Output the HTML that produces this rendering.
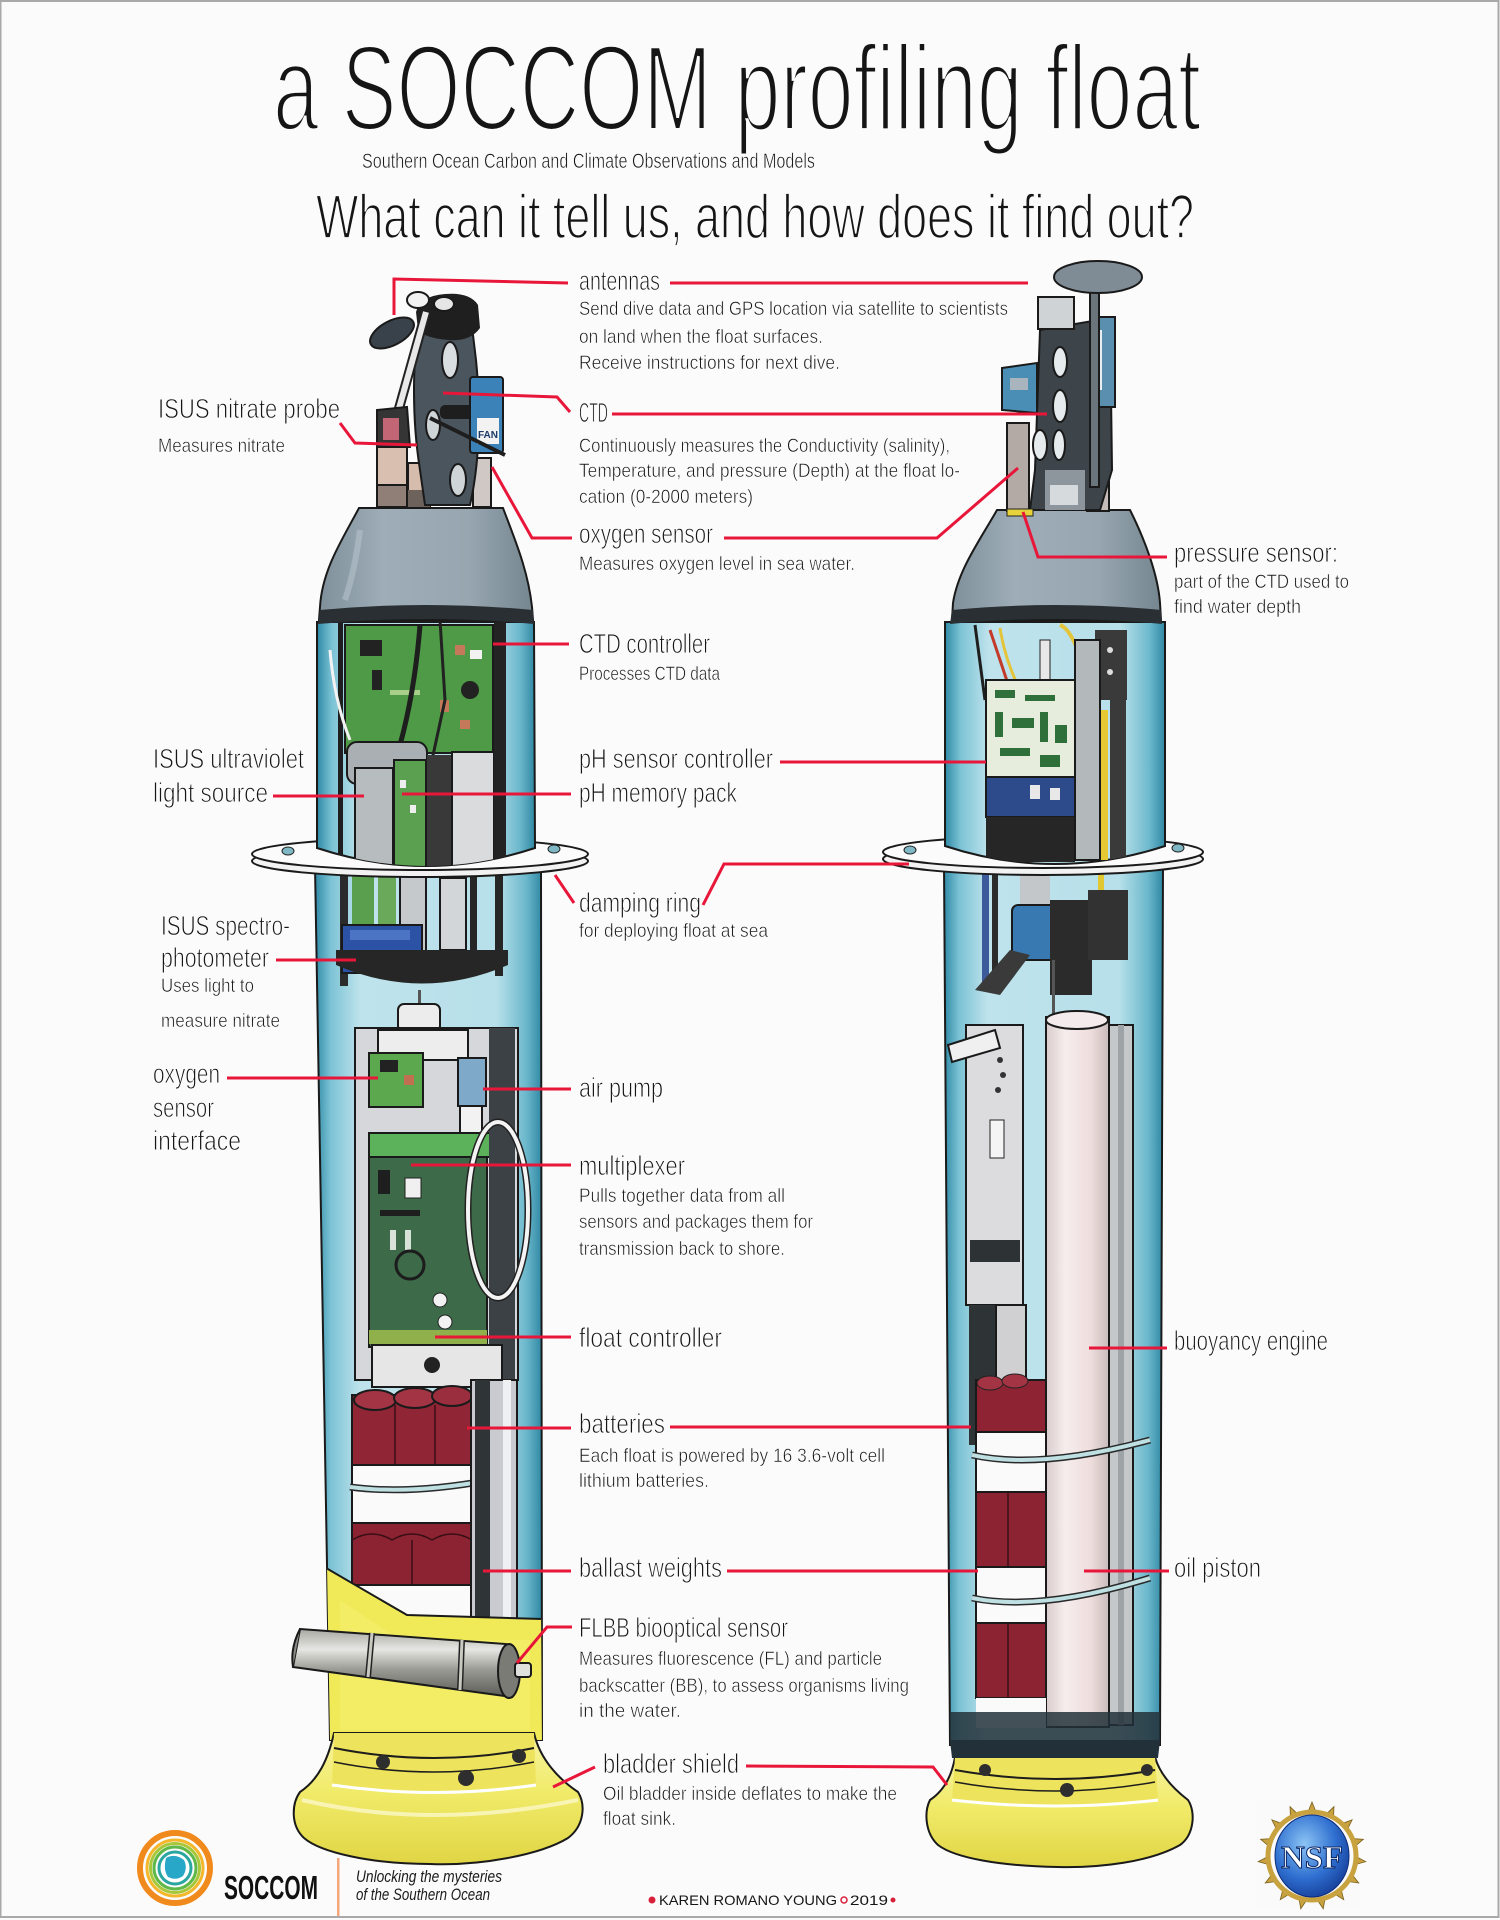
<!DOCTYPE html>
<html><head><meta charset="utf-8">
<style>
html,body{margin:0;padding:0;background:#fcfbfc;}
svg{display:block;}
.t{font-family:"Liberation Sans Narrow","Liberation Sans",sans-serif;fill:#151515;stroke:#fcfbfc;}
.r{fill:none;stroke:#e8173a;stroke-width:3;stroke-linejoin:miter;}
.o{stroke:#1a1a1a;stroke-width:2;}
.L{stroke-width:0.9;}
.D{stroke-width:0.55;}
</style></head><body>
<svg width="1500" height="1920" viewBox="0 0 1500 1920" xmlns="http://www.w3.org/2000/svg">
<defs>
<linearGradient id="tube" x1="0" x2="1" y1="0" y2="0">
 <stop offset="0" stop-color="#2f8aa6"/>
 <stop offset="0.07" stop-color="#7cc3d5"/>
 <stop offset="0.2" stop-color="#bfe3ec"/>
 <stop offset="0.8" stop-color="#b7e0ea"/>
 <stop offset="0.93" stop-color="#6cb8cc"/>
 <stop offset="1" stop-color="#2f88a3"/>
</linearGradient>
<linearGradient id="cap" x1="0" x2="1" y1="0" y2="0">
 <stop offset="0" stop-color="#7f909a"/>
 <stop offset="0.3" stop-color="#9eadb7"/>
 <stop offset="0.7" stop-color="#97a6b0"/>
 <stop offset="1" stop-color="#75868f"/>
</linearGradient>
<linearGradient id="yel" x1="0" y1="0" x2="0" y2="1">
 <stop offset="0" stop-color="#f7f3a0"/>
 <stop offset="0.45" stop-color="#f1eb6a"/>
 <stop offset="1" stop-color="#e0d544"/>
</linearGradient>
<linearGradient id="flbb" x1="0" y1="0" x2="0" y2="1">
 <stop offset="0" stop-color="#a8a8a2"/>
 <stop offset="0.3" stop-color="#e6e6e2"/>
 <stop offset="0.6" stop-color="#9a9a94"/>
 <stop offset="1" stop-color="#5a5a56"/>
</linearGradient>
<linearGradient id="buoy" x1="0" x2="1" y1="0" y2="0">
 <stop offset="0" stop-color="#d9cccc"/>
 <stop offset="0.3" stop-color="#f6eded"/>
 <stop offset="0.7" stop-color="#efdede"/>
 <stop offset="1" stop-color="#c9bcbc"/>
</linearGradient>
<radialGradient id="globe" cx="0.4" cy="0.35" r="0.7">
 <stop offset="0" stop-color="#8cc4f4"/>
 <stop offset="0.6" stop-color="#2f6fd0"/>
 <stop offset="1" stop-color="#163f9a"/>
</radialGradient>
<clipPath id="cLU"><path d="M317,622 L534,622 L535,848 Q426,884 317,848 Z"/></clipPath>
<clipPath id="cLL"><path d="M315,866 L541,866 L542,1740 L330,1740 Z"/></clipPath>
<clipPath id="cRU"><path d="M945,622 L1165,622 L1165,846 Q1055,882 945,846 Z"/></clipPath>
<clipPath id="cRL"><path d="M944,864 L1163,864 L1160,1745 L950,1745 Z"/></clipPath>
</defs>

<rect x="0" y="0" width="1500" height="1920" fill="#fcfbfc"/>
<rect x="0.5" y="1" width="1498" height="1916" fill="none" stroke="#a9a9a9" stroke-width="2"/>

<!-- TITLES -->
<text class="t" x="273" y="130" font-size="122" stroke-width="4" textLength="928" lengthAdjust="spacingAndGlyphs">a SOCCOM profiling float</text>
<text class="t D" x="362" y="168" font-size="21" textLength="453" lengthAdjust="spacingAndGlyphs">Southern Ocean Carbon and Climate Observations and Models</text>
<text class="t" x="316" y="238" font-size="62" stroke-width="1.8" textLength="878" lengthAdjust="spacingAndGlyphs">What can it tell us, and how does it find out?</text>

<!-- ================= LEFT FLOAT ================= -->
<path d="M315,866 L541,866 L542,1740 L330,1740 Z" fill="url(#tube)" class="o" stroke-width="3"/>
<g clip-path="url(#cLL)">
 <rect x="340" y="866" width="8" height="120" fill="#2b2b2b"/>
 <rect x="352" y="866" width="22" height="75" fill="#5a9f4d"/>
 <rect x="378" y="866" width="18" height="62" fill="#6aa95a"/>
 <rect x="400" y="872" width="26" height="80" fill="#c5c9cc" class="o" stroke-width="1"/>
 <rect x="440" y="878" width="26" height="72" fill="#d3d6d8" class="o" stroke-width="1"/>
 <rect x="470" y="866" width="7" height="110" fill="#262626"/>
 <rect x="495" y="866" width="8" height="110" fill="#262626"/>
 <rect x="342" y="925" width="80" height="48" fill="#2c52a6" class="o"/>
 <rect x="350" y="930" width="60" height="10" fill="#4b74c4"/>
 <path d="M336,950 L508,950 L508,965 Q422,1002 336,965 Z" fill="#262626"/>
 <rect x="418" y="990" width="3" height="25" fill="#555"/>
 <rect x="398" y="1004" width="42" height="28" rx="6" fill="#ececec" class="o" stroke-width="1.5"/>
 <rect x="355" y="1028" width="163" height="352" fill="#d6d7da" class="o"/>
 <rect x="378" y="1030" width="90" height="30" fill="#ededed" class="o" stroke-width="1"/>
 <rect x="369" y="1053" width="54" height="54" fill="#5ba84f" class="o" stroke-width="1.5"/>
 <rect x="380" y="1060" width="18" height="12" fill="#222"/>
 <rect x="404" y="1075" width="10" height="10" fill="#c07050"/>
 <rect x="458" y="1058" width="28" height="48" fill="#7fa9c8" class="o" stroke-width="1.5"/>
 <rect x="460" y="1106" width="22" height="30" fill="#f2f2f2" class="o" stroke-width="1"/>
 <rect x="369" y="1133" width="123" height="24" fill="#5bb25a" class="o" stroke-width="1.5"/>
 <rect x="369" y="1157" width="118" height="190" fill="#3d6a48" class="o" stroke-width="1.5"/>
 <rect x="378" y="1170" width="12" height="24" fill="#1e1e1e"/>
 <rect x="405" y="1178" width="16" height="20" fill="#f0f0f0" stroke="#222"/>
 <rect x="380" y="1210" width="40" height="6" fill="#1e1e1e"/>
 <rect x="390" y="1230" width="6" height="20" fill="#d8e2d8"/>
 <rect x="405" y="1230" width="6" height="20" fill="#d8e2d8"/>
 <circle cx="440" cy="1300" r="7" fill="#f2f2f2" stroke="#222"/>
 <circle cx="445" cy="1322" r="7" fill="#f2f2f2" stroke="#222"/>
 <circle cx="410" cy="1265" r="14" fill="none" stroke="#1c1c1c" stroke-width="3"/>
 <rect x="369" y="1330" width="118" height="14" fill="#8fb04a"/>
 <rect x="489" y="1028" width="26" height="352" fill="#3b4145"/>
 <ellipse cx="498" cy="1210" rx="30" ry="88" fill="none" stroke="#222" stroke-width="7"/>
 <ellipse cx="498" cy="1210" rx="30" ry="88" fill="none" stroke="#f4f4f4" stroke-width="4"/>
 <rect x="372" y="1345" width="130" height="42" fill="#e6e6e6" class="o" stroke-width="1.5"/>
 <circle cx="432" cy="1365" r="8" fill="#222"/>
 <rect x="352" y="1395" width="120" height="70" fill="#8f2535" class="o" stroke-width="1.5"/>
 <ellipse cx="375" cy="1400" rx="21" ry="10" fill="#a23444" class="o" stroke-width="1.5"/>
 <ellipse cx="415" cy="1398" rx="21" ry="10" fill="#a23444" class="o" stroke-width="1.5"/>
 <ellipse cx="452" cy="1396" rx="20" ry="10" fill="#9a2e3e" class="o" stroke-width="1.5"/>
 <line x1="395" y1="1405" x2="395" y2="1465" stroke="#3a0e15" stroke-width="1.5"/>
 <line x1="435" y1="1405" x2="435" y2="1465" stroke="#3a0e15" stroke-width="1.5"/>
 <rect x="352" y="1465" width="120" height="58" fill="#fafafa" class="o" stroke-width="1.5"/>
 <path d="M350,1487 Q410,1495 490,1480" fill="none" stroke="#2a2a2a" stroke-width="7"/>
 <path d="M350,1487 Q410,1495 490,1480" fill="none" stroke="#bfe0e2" stroke-width="4"/>
 <rect x="352" y="1523" width="120" height="62" fill="#8b2333" class="o" stroke-width="1.5"/>
 <path d="M352,1540 Q372,1528 392,1540 Q412,1528 432,1540 Q452,1528 472,1540" fill="none" stroke="#3a0e15" stroke-width="1.5"/>
 <line x1="412" y1="1540" x2="412" y2="1585" stroke="#3a0e15" stroke-width="1.5"/>
 <rect x="352" y="1585" width="120" height="40" fill="#fafafa" class="o" stroke-width="1.5"/>
 <rect x="471" y="1380" width="46" height="245" fill="#c9cbd0" class="o" stroke-width="1.5"/>
 <rect x="475" y="1380" width="15" height="245" fill="#2f3437"/>
 <rect x="503" y="1380" width="8" height="245" fill="#eef0f2"/>
 <path d="M326,1568 L407,1615 L542,1619 L543,1745 L326,1745 Z" fill="#f0ea58" class="o"/>
 <path d="M340,1600 L400,1640 L530,1640 L530,1730 L340,1730 Z" fill="#f3ee6e" opacity="0.6"/>
</g>

<!-- FLBB sensor -->
<path d="M300,1629 L506,1644 L512,1697 L293,1667 Z" fill="url(#flbb)" class="o"/>
<path d="M300,1629 Q290,1648 293,1667" fill="#8a8a86" class="o"/>
<ellipse cx="509" cy="1671" rx="11" ry="27" fill="#7b7b76" class="o"/>
<rect x="515" y="1663" width="16" height="14" rx="3" fill="#e0e0dc" class="o" stroke-width="1.5"/>
<path d="M372,1633 L368,1677" fill="none" stroke="#222" stroke-width="6"/>
<path d="M372,1633 L368,1677" fill="none" stroke="#c9c9c2" stroke-width="3"/>
<path d="M462,1640 L460,1690" fill="none" stroke="#222" stroke-width="6"/>
<path d="M462,1640 L460,1690" fill="none" stroke="#c9c9c2" stroke-width="3"/>

<!-- left bladder shield -->
<path d="M334,1733 L534,1733 C540,1760 560,1780 578,1792 C586,1805 584,1826 568,1838 C540,1855 480,1866 430,1864 C370,1864 320,1852 304,1838 C290,1825 292,1803 300,1792 C318,1780 328,1760 334,1733 Z" fill="url(#yel)" class="o" stroke-width="3"/>
<path d="M334,1733 L534,1733 L536,1785 Q434,1800 332,1785 Z" fill="#eee35c"/>
<path d="M334,1748 Q434,1768 534,1748" fill="none" stroke="#1d1d1d" stroke-width="2"/>
<path d="M334,1762 Q434,1782 534,1762" fill="none" stroke="#1d1d1d" stroke-width="1.5"/>
<path d="M332,1785 Q434,1800 536,1785" fill="none" stroke="#fff" stroke-width="3"/>
<circle cx="383" cy="1762" r="7" fill="#2e2e2e"/>
<circle cx="466" cy="1778" r="8" fill="#2e2e2e"/>
<circle cx="519" cy="1756" r="7" fill="#2e2e2e"/>
<path d="M302,1800 Q430,1830 578,1800" fill="none" stroke="#fbf8c8" stroke-width="4" opacity="0.8"/>

<!-- left damping ring -->
<ellipse cx="420" cy="861" rx="168" ry="16" fill="#f2f2f2" class="o" stroke-width="2.5"/>
<ellipse cx="420" cy="854" rx="168" ry="16" fill="#fbfbfb" class="o" stroke-width="2.5"/>
<ellipse cx="288" cy="851" rx="6" ry="4" fill="#7fb8c4" stroke="#222"/>
<ellipse cx="554" cy="849" rx="6" ry="4" fill="#7fb8c4" stroke="#222"/>

<!-- left upper tube -->
<path d="M317,622 L534,622 L535,848 Q426,884 317,848 Z" fill="url(#tube)" class="o" stroke-width="3"/>
<g clip-path="url(#cLU)">
 <rect x="338" y="622" width="5" height="240" fill="#1e1e1e"/>
 <rect x="345" y="625" width="148" height="128" fill="#4e9a46" class="o" stroke-width="1.5"/>
 <rect x="360" y="640" width="22" height="16" fill="#222"/>
 <rect x="372" y="670" width="10" height="20" fill="#222"/>
 <rect x="455" y="645" width="10" height="10" fill="#c47a5a"/>
 <rect x="470" y="650" width="12" height="9" fill="#f2f2f2"/>
 <rect x="440" y="700" width="9" height="12" fill="#c47a5a"/>
 <rect x="460" y="720" width="10" height="9" fill="#c47a5a"/>
 <circle cx="470" cy="690" r="9" fill="#222"/>
 <rect x="390" y="690" width="30" height="5" fill="#a8d08a"/>
 <path d="M330,650 Q334,700 350,740" fill="none" stroke="#f2f2f2" stroke-width="3"/>
 <path d="M420,625 Q415,690 400,745" fill="none" stroke="#1e1e1e" stroke-width="5"/>
 <path d="M440,620 L445,700 L432,760" fill="none" stroke="#222" stroke-width="3"/>
 <rect x="347" y="742" width="80" height="42" rx="10" fill="#a9afb3" class="o" stroke-width="1.5"/>
 <rect x="355" y="768" width="38" height="100" fill="#b7bcbf" class="o" stroke-width="1.5"/>
 <rect x="394" y="760" width="32" height="110" fill="#5aa050" class="o" stroke-width="1"/>
 <rect x="400" y="780" width="6" height="8" fill="#eee"/>
 <rect x="410" y="805" width="6" height="8" fill="#eee"/>
 <rect x="427" y="755" width="24" height="115" fill="#393939"/>
 <rect x="452" y="752" width="42" height="118" fill="#d9dbdd" class="o" stroke-width="1.5"/>
 <rect x="494" y="622" width="12" height="245" fill="#232323"/>
</g>

<!-- left cap -->
<path d="M359,508 L503,508 C515,540 528,570 532,607 L533,620 L319,620 L320,607 C322,570 342,540 359,508 Z" fill="url(#cap)" class="o" stroke-width="3"/>
<path d="M320,610 Q426,600 533,610 L534,624 Q426,614 318,624 Z" fill="#2a2f33"/>
<path d="M360,530 Q355,570 345,600" fill="none" stroke="#b4c1c9" stroke-width="6" opacity="0.6"/>

<!-- left antenna assembly -->
<rect x="377" y="447" width="30" height="60" fill="#d8bfb0" class="o" stroke-width="1.5"/>
<rect x="377" y="485" width="30" height="22" fill="#8f7f76" class="o" stroke-width="1"/>
<rect x="408" y="463" width="22" height="44" fill="#d5bcad" class="o" stroke-width="1.5"/>
<rect x="408" y="490" width="22" height="17" fill="#6e625c"/>
<rect x="473" y="458" width="18" height="49" fill="#cfc8c4" class="o" stroke-width="1.5"/>
<path d="M420,320 C412,360 412,420 420,470 L425,505 L470,505 C478,470 482,420 476,360 L470,310 Z" fill="#4b555e" class="o" stroke-width="2"/>
<ellipse cx="450" cy="360" rx="8" ry="18" fill="#d9dee1" class="o" stroke-width="1.5"/>
<ellipse cx="433" cy="425" rx="7" ry="15" fill="#cfd4d7" class="o" stroke-width="1.5"/>
<ellipse cx="458" cy="480" rx="8" ry="16" fill="#cfd4d7" class="o" stroke-width="1.5"/>
<rect x="440" y="405" width="35" height="14" rx="5" fill="#1e1e1e"/>
<path d="M416,312 Q420,296 445,294 Q470,292 478,305 L480,328 Q470,342 448,340 Q425,338 418,330 Z" fill="#1f1f1f"/>
<ellipse cx="392" cy="333" rx="24" ry="12" transform="rotate(-28 392 333)" fill="#39424a" class="o" stroke-width="2"/>
<path d="M398,412 L426,312" fill="none" stroke="#222" stroke-width="10"/>
<path d="M398,412 L426,312" fill="none" stroke="#e8e8e8" stroke-width="6"/>
<ellipse cx="418" cy="300" rx="11" ry="8" fill="#f2f2f2" class="o" stroke-width="1.5"/>
<ellipse cx="444" cy="304" rx="10" ry="7" fill="#e6e6e6" class="o" stroke-width="1.5"/>
<rect x="470" y="377" width="33" height="76" rx="3" fill="#3a82b8" class="o" stroke-width="2"/>
<rect x="477" y="418" width="22" height="26" fill="#f2f2f2"/>
<text x="478" y="438" font-family="Liberation Sans, sans-serif" font-size="10" font-weight="bold" fill="#1a3a6a">FAN</text>
<path d="M377,410 L407,407 L410,447 L377,447 Z" fill="#353535" class="o" stroke-width="1.5"/>
<rect x="383" y="418" width="16" height="22" fill="#c26676"/>
<path d="M430,418 L505,455" fill="none" stroke="#1e1e1e" stroke-width="4"/>

<!-- ================= RIGHT FLOAT ================= -->
<path d="M944,864 L1163,864 L1160,1745 L950,1745 Z" fill="url(#tube)" class="o" stroke-width="3"/>
<g clip-path="url(#cRL)">
 <rect x="982" y="864" width="7" height="120" fill="#3d5a9a"/>
 <rect x="992" y="864" width="6" height="120" fill="#2b2b2b"/>
 <rect x="1020" y="864" width="30" height="60" fill="#c3c7ca"/>
 <rect x="1098" y="864" width="6" height="80" fill="#e2c830"/>
 <rect x="1012" y="905" width="50" height="55" rx="6" fill="#3779b0" class="o" stroke-width="1.5"/>
 <rect x="1050" y="900" width="42" height="95" fill="#2b2b2b"/>
 <rect x="1088" y="890" width="40" height="70" fill="#323232"/>
 <path d="M975,990 L1010,950 L1030,955 L1000,995 Z" fill="#3a3a3a"/>
 <rect x="1052" y="960" width="3" height="60" fill="#555"/>
 <ellipse cx="995" cy="1090" rx="22" ry="60" fill="none" stroke="#222" stroke-width="6"/>
 <ellipse cx="995" cy="1090" rx="22" ry="60" fill="none" stroke="#f2f2f2" stroke-width="3"/>
 <rect x="966" y="1025" width="57" height="280" fill="#dcdcde" class="o" stroke-width="1.5"/>
 <path d="M948,1045 L995,1030 L1000,1048 L952,1062 Z" fill="#f0f0f0" class="o" stroke-width="1.5"/>
 <circle cx="1000" cy="1060" r="3" fill="#333"/>
 <circle cx="1003" cy="1075" r="3" fill="#333"/>
 <circle cx="998" cy="1090" r="3" fill="#333"/>
 <rect x="990" y="1120" width="14" height="38" fill="#f4f4f4" stroke="#222"/>
 <rect x="970" y="1240" width="50" height="22" fill="#2d3235"/>
 <rect x="969" y="1305" width="27" height="140" fill="#2e3336"/>
 <rect x="996" y="1305" width="30" height="80" fill="#d0d0d2" class="o" stroke-width="1"/>
 <rect x="1046" y="1017" width="63" height="710" fill="url(#buoy)" class="o" stroke-width="1.5"/>
 <ellipse cx="1077" cy="1020" rx="31" ry="9" fill="#f4ecec" class="o" stroke-width="2"/>
 <rect x="1109" y="1025" width="24" height="700" fill="#c4c8cb" class="o" stroke-width="1.5"/>
 <rect x="1118" y="1025" width="6" height="700" fill="#9da3a7"/>
 <rect x="976" y="1380" width="70" height="52" fill="#8e2433" class="o" stroke-width="1.5"/>
 <ellipse cx="990" cy="1383" rx="13" ry="7" fill="#a23444" stroke="#222"/>
 <ellipse cx="1015" cy="1381" rx="13" ry="7" fill="#a23444" stroke="#222"/>
 <rect x="976" y="1432" width="70" height="60" fill="#fafafa" class="o" stroke-width="1.5"/>
 <path d="M972,1455 Q1040,1470 1150,1440" fill="none" stroke="#2a2a2a" stroke-width="7"/>
 <path d="M972,1455 Q1040,1470 1150,1440" fill="none" stroke="#bfe0e2" stroke-width="4"/>
 <rect x="976" y="1492" width="70" height="75" fill="#8b2333" class="o" stroke-width="1.5"/>
 <line x1="1008" y1="1492" x2="1008" y2="1567" stroke="#3a0e15" stroke-width="1.5"/>
 <rect x="976" y="1567" width="70" height="56" fill="#fafafa" class="o" stroke-width="1.5"/>
 <path d="M972,1598 Q1040,1612 1150,1578" fill="none" stroke="#2a2a2a" stroke-width="7"/>
 <path d="M972,1598 Q1040,1612 1150,1578" fill="none" stroke="#bfe0e2" stroke-width="4"/>
 <rect x="976" y="1623" width="70" height="75" fill="#8b2333" class="o" stroke-width="1.5"/>
 <line x1="1008" y1="1623" x2="1008" y2="1698" stroke="#3a0e15" stroke-width="1.5"/>
 <rect x="976" y="1698" width="70" height="30" fill="#fafafa"/>
 <path d="M944,1712 L1163,1712 L1163,1760 L944,1760 Z" fill="#23313a" opacity="0.85"/>
</g>
<path d="M955,1757 L1155,1757 C1160,1775 1175,1790 1188,1800 C1196,1812 1194,1835 1180,1845 C1150,1862 1100,1868 1058,1867 C1000,1866 955,1858 938,1845 C925,1833 924,1812 930,1800 C945,1790 952,1775 955,1757 Z" fill="url(#yel)" class="o" stroke-width="3"/>
<path d="M955,1757 L1155,1757 L1158,1800 Q1056,1812 952,1800 Z" fill="#eee35c"/>
<path d="M955,1770 Q1056,1788 1155,1770" fill="none" stroke="#1d1d1d" stroke-width="2"/>
<path d="M955,1782 Q1056,1800 1155,1782" fill="none" stroke="#1d1d1d" stroke-width="1.5"/>
<path d="M952,1800 Q1056,1812 1158,1800" fill="none" stroke="#fff" stroke-width="3"/>
<circle cx="985" cy="1770" r="6" fill="#2e2e2e"/>
<circle cx="1067" cy="1790" r="7" fill="#2e2e2e"/>
<circle cx="1147" cy="1770" r="6" fill="#2e2e2e"/>
<path d="M950,1740 L1160,1740 L1158,1758 L952,1758 Z" fill="#22303a"/>

<ellipse cx="1043" cy="859" rx="160" ry="16" fill="#f2f2f2" class="o" stroke-width="2.5"/>
<ellipse cx="1043" cy="852" rx="160" ry="16" fill="#fbfbfb" class="o" stroke-width="2.5"/>
<ellipse cx="910" cy="850" rx="6" ry="4" fill="#7fb8c4" stroke="#222"/>
<ellipse cx="1178" cy="848" rx="6" ry="4" fill="#7fb8c4" stroke="#222"/>

<path d="M945,622 L1165,622 L1165,846 Q1055,882 945,846 Z" fill="url(#tube)" class="o" stroke-width="3"/>
<g clip-path="url(#cRU)">
 <path d="M975,625 L985,700" stroke="#1e1e1e" stroke-width="3" fill="none"/>
 <path d="M990,630 Q1000,660 1010,690" stroke="#c23a2a" stroke-width="3" fill="none"/>
 <path d="M1000,628 Q1005,660 1020,690" stroke="#e3c43a" stroke-width="3" fill="none"/>
 <path d="M1060,625 Q1075,630 1090,690" stroke="#e3c43a" stroke-width="4" fill="none"/>
 <rect x="1040" y="640" width="10" height="40" fill="#e8e8e8" stroke="#222"/>
 <rect x="1095" y="630" width="32" height="70" fill="#3a3a3a"/>
 <circle cx="1110" cy="650" r="3" fill="#ddd"/>
 <circle cx="1110" cy="672" r="3" fill="#ddd"/>
 <rect x="986" y="680" width="89" height="97" fill="#e7eddd" class="o" stroke-width="1.5"/>
 <rect x="995" y="690" width="20" height="8" fill="#2f6f3a"/>
 <rect x="1025" y="695" width="30" height="6" fill="#2f6f3a"/>
 <rect x="995" y="712" width="8" height="25" fill="#2f6f3a"/>
 <rect x="1012" y="718" width="22" height="10" fill="#2f6f3a"/>
 <rect x="1040" y="712" width="8" height="30" fill="#2f6f3a"/>
 <rect x="1055" y="725" width="12" height="18" fill="#2f6f3a"/>
 <rect x="1000" y="748" width="30" height="8" fill="#2f6f3a"/>
 <rect x="1040" y="755" width="20" height="12" fill="#2f6f3a"/>
 <rect x="986" y="777" width="89" height="40" fill="#2d4a8a" class="o" stroke-width="1.5"/>
 <rect x="1030" y="785" width="10" height="14" fill="#e8e8e8"/>
 <rect x="1050" y="788" width="10" height="12" fill="#e8e8e8"/>
 <rect x="986" y="817" width="89" height="45" fill="#262626"/>
 <rect x="1075" y="640" width="25" height="220" fill="#b3b8bb" class="o" stroke-width="1"/>
 <rect x="1101" y="710" width="7" height="150" fill="#e6c832"/>
 <rect x="1110" y="700" width="16" height="160" fill="#3a3a3a"/>
</g>

<path d="M997,510 L1130,510 C1145,540 1158,575 1160,603 L1161,620 L952,620 L953,603 C958,570 980,540 997,510 Z" fill="url(#cap)" class="o" stroke-width="3"/>
<path d="M952,610 Q1056,600 1161,610 L1162,624 Q1056,614 950,624 Z" fill="#2a2f33"/>

<rect x="1007" y="423" width="22" height="88" fill="#b3aaa6" class="o" stroke-width="1.5"/>
<rect x="1087" y="443" width="22" height="68" fill="#c5bcb8" class="o" stroke-width="1.5"/>
<path d="M1040,330 L1110,318 L1112,470 L1100,510 L1030,510 L1035,470 Z" fill="#3d454b" class="o" stroke-width="2"/>
<rect x="1045" y="470" width="40" height="40" fill="#8d969c"/>
<rect x="1050" y="485" width="28" height="20" fill="#d6dadd"/>
<ellipse cx="1060" cy="362" rx="7" ry="15" fill="#e6ebee" class="o" stroke-width="1.5"/>
<ellipse cx="1060" cy="406" rx="7" ry="16" fill="#e6ebee" class="o" stroke-width="1.5"/>
<ellipse cx="1040" cy="445" rx="7" ry="15" fill="#e6ebee" class="o" stroke-width="1.5"/>
<ellipse cx="1059" cy="445" rx="6" ry="15" fill="#e6ebee" class="o" stroke-width="1.5"/>
<rect x="1038" y="297" width="36" height="32" fill="#cfd3d6" class="o" stroke-width="1.5"/>
<rect x="1093" y="317" width="22" height="90" fill="#5a8fb0" class="o" stroke-width="1.5"/>
<rect x="1098" y="330" width="4" height="60" fill="#e8eef2"/>
<rect x="1090" y="287" width="9" height="200" fill="#6b757c" class="o" stroke-width="1"/>
<path d="M1002,368 L1037,363 L1037,413 L1002,410 Z" fill="#4a8db5" class="o" stroke-width="1.5"/>
<rect x="1010" y="378" width="18" height="12" fill="#a8b5bf"/>
<ellipse cx="1098" cy="277" rx="44" ry="16" fill="#7f8c96" class="o" stroke-width="2"/>
<rect x="1007" y="509" width="26" height="7" fill="#e6d23a" stroke="#222" stroke-width="1"/>

<!-- ================= RED LEADER LINES ================= -->
<path class="r" d="M394,315 L394,279 L568,283"/>
<path class="r" d="M670,283 L1028,283"/>
<path class="r" d="M340,423 L355,443 L417,445"/>
<path class="r" d="M443,393 L557,397 L570,412"/>
<path class="r" d="M612,414 L1047,414"/>
<path class="r" d="M492,467 L532,538 L572,538"/>
<path class="r" d="M724,538 L937,538 L1018,468"/>
<path class="r" d="M1023,512 L1038,557 L1167,557"/>
<path class="r" d="M493,644 L569,644"/>
<path class="r" d="M273,796 L364,796"/>
<path class="r" d="M780,762 L986,762"/>
<path class="r" d="M402,794 L571,794"/>
<path class="r" d="M555,875 L574,903"/>
<path class="r" d="M703,905 L724,864 L909,864"/>
<path class="r" d="M276,960 L356,960"/>
<path class="r" d="M227,1078 L378,1078"/>
<path class="r" d="M483,1089 L571,1089"/>
<path class="r" d="M411,1165 L571,1165"/>
<path class="r" d="M435,1337 L571,1337"/>
<path class="r" d="M1089,1348 L1167,1348"/>
<path class="r" d="M467,1428 L571,1428"/>
<path class="r" d="M670,1427 L971,1427"/>
<path class="r" d="M483,1571 L571,1571"/>
<path class="r" d="M727,1571 L978,1571"/>
<path class="r" d="M1084,1571 L1169,1571"/>
<path class="r" d="M572,1627 L547,1627 L517,1663"/>
<path class="r" d="M595,1767 L553,1787"/>
<path class="r" d="M746,1766 L933,1767 L947,1785"/>

<!-- ================= LABELS ================= -->
<g class="t">
<text class="L" x="579" y="290" font-size="28" textLength="81" lengthAdjust="spacingAndGlyphs">antennas</text>
<text class="D" x="579" y="315" font-size="19" textLength="429" lengthAdjust="spacingAndGlyphs">Send dive data and GPS location via satellite to scientists</text>
<text class="D" x="579" y="343" font-size="19" textLength="244" lengthAdjust="spacingAndGlyphs">on land when the float surfaces.</text>
<text class="D" x="579" y="369" font-size="19" textLength="261" lengthAdjust="spacingAndGlyphs">Receive instructions for next dive.</text>

<text class="L" x="158" y="418" font-size="28" textLength="182" lengthAdjust="spacingAndGlyphs">ISUS nitrate probe</text>
<text class="D" x="158" y="452" font-size="19" textLength="127" lengthAdjust="spacingAndGlyphs">Measures nitrate</text>

<text class="L" x="579" y="422" font-size="28" textLength="29" lengthAdjust="spacingAndGlyphs">CTD</text>
<text class="D" x="579" y="452" font-size="19" textLength="371" lengthAdjust="spacingAndGlyphs">Continuously measures the Conductivity (salinity),</text>
<text class="D" x="579" y="477" font-size="19" textLength="381" lengthAdjust="spacingAndGlyphs">Temperature, and pressure (Depth) at the float lo-</text>
<text class="D" x="579" y="503" font-size="19" textLength="174" lengthAdjust="spacingAndGlyphs">cation (0-2000 meters)</text>

<text class="L" x="579" y="543" font-size="28" textLength="134" lengthAdjust="spacingAndGlyphs">oxygen sensor</text>
<text class="D" x="579" y="570" font-size="19" textLength="276" lengthAdjust="spacingAndGlyphs">Measures oxygen level in sea water.</text>

<text class="L" x="1174" y="562" font-size="28" textLength="164" lengthAdjust="spacingAndGlyphs">pressure sensor:</text>
<text class="D" x="1174" y="588" font-size="19" textLength="175" lengthAdjust="spacingAndGlyphs">part of the CTD used to</text>
<text class="D" x="1174" y="613" font-size="19" textLength="127" lengthAdjust="spacingAndGlyphs">find water depth</text>

<text class="L" x="579" y="653" font-size="28" textLength="131" lengthAdjust="spacingAndGlyphs">CTD controller</text>
<text class="D" x="579" y="680" font-size="19" textLength="141" lengthAdjust="spacingAndGlyphs">Processes CTD data</text>

<text class="L" x="153" y="768" font-size="28" textLength="151" lengthAdjust="spacingAndGlyphs">ISUS ultraviolet</text>
<text class="L" x="153" y="802" font-size="28" textLength="115" lengthAdjust="spacingAndGlyphs">light source</text>

<text class="L" x="579" y="768" font-size="28" textLength="194" lengthAdjust="spacingAndGlyphs">pH sensor controller</text>
<text class="L" x="579" y="802" font-size="28" textLength="158" lengthAdjust="spacingAndGlyphs">pH memory pack</text>

<text class="L" x="579" y="912" font-size="28" textLength="122" lengthAdjust="spacingAndGlyphs">damping ring</text>
<text class="D" x="579" y="937" font-size="19" textLength="189" lengthAdjust="spacingAndGlyphs">for deploying float at sea</text>

<text class="L" x="161" y="935" font-size="28" textLength="129" lengthAdjust="spacingAndGlyphs">ISUS spectro-</text>
<text class="L" x="161" y="967" font-size="28" textLength="108" lengthAdjust="spacingAndGlyphs">photometer</text>
<text class="D" x="161" y="992" font-size="19" textLength="93" lengthAdjust="spacingAndGlyphs">Uses light to</text>
<text class="D" x="161" y="1027" font-size="19" textLength="119" lengthAdjust="spacingAndGlyphs">measure nitrate</text>

<text class="L" x="153" y="1083" font-size="28" textLength="67" lengthAdjust="spacingAndGlyphs">oxygen</text>
<text class="L" x="153" y="1117" font-size="28" textLength="61" lengthAdjust="spacingAndGlyphs">sensor</text>
<text class="L" x="153" y="1150" font-size="28" textLength="88" lengthAdjust="spacingAndGlyphs">interface</text>

<text class="L" x="579" y="1097" font-size="28" textLength="84" lengthAdjust="spacingAndGlyphs">air pump</text>

<text class="L" x="579" y="1175" font-size="28" textLength="106" lengthAdjust="spacingAndGlyphs">multiplexer</text>
<text class="D" x="579" y="1202" font-size="19" textLength="206" lengthAdjust="spacingAndGlyphs">Pulls together data from all</text>
<text class="D" x="579" y="1228" font-size="19" textLength="234" lengthAdjust="spacingAndGlyphs">sensors and packages them for</text>
<text class="D" x="579" y="1255" font-size="19" textLength="206" lengthAdjust="spacingAndGlyphs">transmission back to shore.</text>

<text class="L" x="579" y="1347" font-size="28" textLength="143" lengthAdjust="spacingAndGlyphs">float controller</text>
<text class="L" x="1174" y="1350" font-size="28" textLength="154" lengthAdjust="spacingAndGlyphs">buoyancy engine</text>

<text class="L" x="579" y="1433" font-size="28" textLength="86" lengthAdjust="spacingAndGlyphs">batteries</text>
<text class="D" x="579" y="1462" font-size="19" textLength="306" lengthAdjust="spacingAndGlyphs">Each float is powered by 16 3.6-volt cell</text>
<text class="D" x="579" y="1487" font-size="19" textLength="130" lengthAdjust="spacingAndGlyphs">lithium batteries.</text>

<text class="L" x="579" y="1577" font-size="28" textLength="143" lengthAdjust="spacingAndGlyphs">ballast weights</text>
<text class="L" x="1174" y="1577" font-size="28" textLength="87" lengthAdjust="spacingAndGlyphs">oil piston</text>

<text class="L" x="579" y="1637" font-size="28" textLength="209" lengthAdjust="spacingAndGlyphs">FLBB biooptical sensor</text>
<text class="D" x="579" y="1665" font-size="19" textLength="303" lengthAdjust="spacingAndGlyphs">Measures fluorescence (FL) and particle</text>
<text class="D" x="579" y="1692" font-size="19" textLength="330" lengthAdjust="spacingAndGlyphs">backscatter (BB), to assess organisms living</text>
<text class="D" x="579" y="1717" font-size="19" textLength="102" lengthAdjust="spacingAndGlyphs">in the water.</text>

<text class="L" x="603" y="1773" font-size="28" textLength="136" lengthAdjust="spacingAndGlyphs">bladder shield</text>
<text class="D" x="603" y="1800" font-size="19" textLength="294" lengthAdjust="spacingAndGlyphs">Oil bladder inside deflates to make the</text>
<text class="D" x="603" y="1825" font-size="19" textLength="73" lengthAdjust="spacingAndGlyphs">float sink.</text>
</g>

<!-- ================= FOOTER ================= -->
<circle cx="175" cy="1868" r="35" fill="none" stroke="#f08a1c" stroke-width="6"/>
<circle cx="175" cy="1868" r="28" fill="none" stroke="#f5b72a" stroke-width="3"/>
<circle cx="175" cy="1868" r="24.5" fill="none" stroke="#a8c83a" stroke-width="3"/>
<circle cx="175" cy="1868" r="21" fill="none" stroke="#5fb848" stroke-width="3"/>
<circle cx="175" cy="1868" r="16" fill="#ffffff" stroke="#2aa6a0" stroke-width="3"/>
<path d="M166,1858 Q175,1853 184,1860 Q188,1868 183,1876 Q176,1881 168,1877 Q163,1870 166,1858 Z" fill="#29a7c9"/>
<text x="224" y="1899" font-family="Liberation Sans Narrow, Liberation Sans, sans-serif" font-weight="bold" font-size="33" fill="#111" textLength="94" lengthAdjust="spacingAndGlyphs">SOCCOM</text>
<rect x="337" y="1858" width="2.5" height="58" fill="#f3a77a"/>
<text x="356" y="1882" font-family="Liberation Sans, sans-serif" font-style="italic" font-size="17" fill="#1a1a1a" textLength="146" lengthAdjust="spacingAndGlyphs">Unlocking the mysteries</text>
<text x="356" y="1900" font-family="Liberation Sans, sans-serif" font-style="italic" font-size="17" fill="#1a1a1a" textLength="134" lengthAdjust="spacingAndGlyphs">of the Southern Ocean</text>

<circle cx="652" cy="1900" r="3.5" fill="#d8203a"/>
<text x="659" y="1905" font-family="Liberation Sans, sans-serif" font-size="14" fill="#151515" textLength="178" lengthAdjust="spacingAndGlyphs">KAREN ROMANO YOUNG</text>
<circle cx="844" cy="1900" r="3" fill="none" stroke="#d8203a" stroke-width="1.5"/>
<text x="850" y="1905" font-family="Liberation Sans, sans-serif" font-size="14" fill="#151515" textLength="38" lengthAdjust="spacingAndGlyphs">2019</text>
<circle cx="893" cy="1900" r="2.5" fill="#d8203a"/>

<rect x="1256" y="1800" width="103" height="110" fill="#fafafa"/>
<g transform="translate(1312,1856)" fill="#c9a240" stroke="#7a5f1c" stroke-width="0.8">
 <polygon points="0,-54 4,-44 -4,-44"/>
 <polygon points="0,-54 4,-44 -4,-44" transform="rotate(24)"/>
 <polygon points="0,-54 4,-44 -4,-44" transform="rotate(48)"/>
 <polygon points="0,-54 4,-44 -4,-44" transform="rotate(72)"/>
 <polygon points="0,-54 4,-44 -4,-44" transform="rotate(96)"/>
 <polygon points="0,-54 4,-44 -4,-44" transform="rotate(120)"/>
 <polygon points="0,-54 4,-44 -4,-44" transform="rotate(144)"/>
 <polygon points="0,-54 4,-44 -4,-44" transform="rotate(168)"/>
 <polygon points="0,-54 4,-44 -4,-44" transform="rotate(192)"/>
 <polygon points="0,-54 4,-44 -4,-44" transform="rotate(216)"/>
 <polygon points="0,-54 4,-44 -4,-44" transform="rotate(240)"/>
 <polygon points="0,-54 4,-44 -4,-44" transform="rotate(264)"/>
 <polygon points="0,-54 4,-44 -4,-44" transform="rotate(288)"/>
 <polygon points="0,-54 4,-44 -4,-44" transform="rotate(312)"/>
 <polygon points="0,-54 4,-44 -4,-44" transform="rotate(336)"/>
 <circle r="44" fill="none" stroke="#c9a240" stroke-width="5"/>
</g>
<ellipse cx="1312" cy="1856" rx="37" ry="41" fill="url(#globe)" stroke="#0f2f7a" stroke-width="1"/>
<text x="1312" y="1868" text-anchor="middle" font-family="Liberation Serif, serif" font-weight="bold" font-size="32" fill="#ffffff" stroke="#0b2a6a" stroke-width="1" textLength="62" lengthAdjust="spacingAndGlyphs">NSF</text>
</svg>
</body></html>
